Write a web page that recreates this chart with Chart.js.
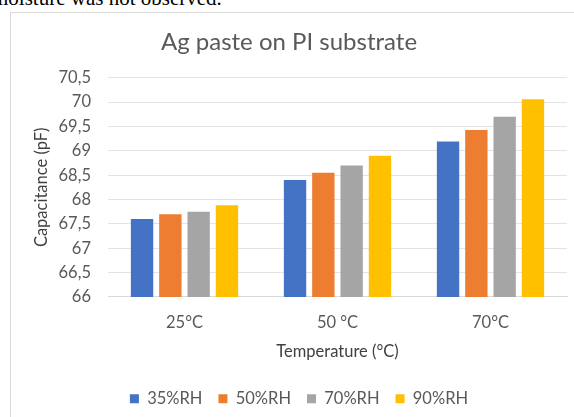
<!DOCTYPE html>
<html>
<head>
<meta charset="utf-8">
<script src="https://cdn.jsdelivr.net/npm/chart.js@4/dist/chart.umd.min.js"></script>
<style>
  html, body { margin: 0; padding: 0; background: #fff; }
  body { width: 574px; height: 417px; position: relative; overflow: hidden; }
  .doc { position: absolute; left: -8px; top: -14px; font-family: "Liberation Serif", serif; font-size: 21px; color: #000; white-space: nowrap; }
  .frame { position: absolute; left: 10px; top: 12px; width: 580px; height: 420px; border: 1px solid #d9d9d9; }
  .frame canvas { position: absolute; left: 0; top: 0; }
</style>
</head>
<body>
<div class="doc">moisture was not observed.</div>
<div class="frame"><canvas id="chart" width="563" height="404"></canvas></div>
<script>
// values
const temperatures = ['25°C', '50 °C', '70°C'];
const humidityLabels = ['35%RH', '50%RH', '70%RH', '90%RH'];
const rh35 = [67.6, 68.4, 69.19];
const rh50 = [67.7, 68.55, 69.43];
const rh70 = [67.75, 68.7, 69.7];
const rh90 = [67.88, 68.9, 70.06];
const colors = ['#4472C4', '#ED7D31', '#A5A5A5', '#FFC000'];

const txt = '#595959';
const fontFam = 'Lato, "Open Sans", sans-serif';
const fs = 16.5;

// nudge the legend a little to the right, like the original
const legendShift = {
  id: 'legendShift',
  afterLayout(chart) {
    chart.legend.left += 10;
    chart.legend.right += 10;
  }
};

const ctx = document.getElementById('chart').getContext('2d');
new Chart(ctx, {
  type: 'bar',
  data: {
    labels: temperatures,
    datasets: [rh35, rh50, rh70, rh90].map((d, i) => ({
      label: humidityLabels[i],
      data: d,
      backgroundColor: colors[i],
      categoryPercentage: 0.74,
      barPercentage: 0.79,
    }))
  },
  options: {
    responsive: false,
    animation: false,
    layout: { padding: { left: 0, right: 7, top: 0, bottom: 0 } },
    plugins: {
      title: {
        display: true,
        text: 'Ag paste on PI substrate',
        color: txt,
        font: { family: fontFam, size: 24, weight: 'normal' },
        padding: { top: 15, bottom: 21 }
      },
      legend: {
        position: 'bottom',
        labels: {
          color: txt,
          font: { family: fontFam, size: fs },
          boxWidth: 9,
          boxHeight: 9,
          padding: 16
        }
      },
      tooltip: { enabled: false }
    },
    scales: {
      x: {
        grid: { display: false },
        border: { color: '#d9d9d9' },
        ticks: { color: txt, font: { family: fontFam, size: fs }, padding: 8 },
        title: { display: true, text: 'Temperature (°C)', color: '#404040', font: { family: fontFam, size: fs }, padding: { top: 1, bottom: 13 } }
      },
      y: {
        min: 66,
        max: 70.5,
        ticks: {
          stepSize: 0.5,
          color: txt,
          font: { family: fontFam, size: fs },
          padding: 17,
          callback: v => String(v).replace('.', ',')
        },
        grid: { color: '#e3e3e3', drawTicks: false },
        border: { display: false },
        title: { display: true, text: 'Capacitance (pF)', color: '#404040', font: { family: fontFam, size: fs }, padding: { top: 21, bottom: 0 } },
        afterFit: s => { s.width = 97; }
      }
    }
  },
  plugins: [legendShift]
});
</script>
</body>
</html>
